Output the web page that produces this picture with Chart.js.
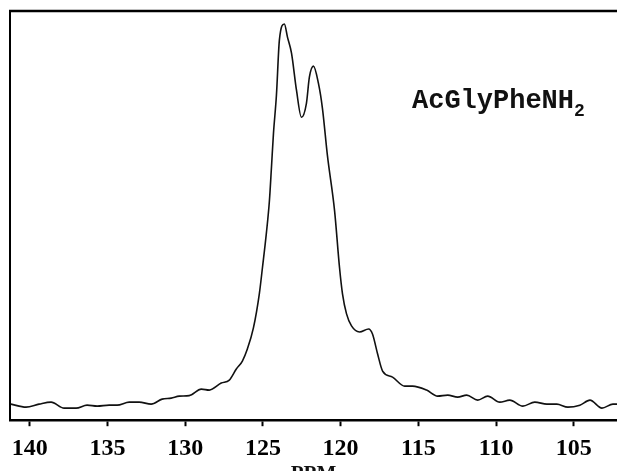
<!DOCTYPE html>
<html>
<head>
<meta charset="utf-8">
<script src="https://cdn.jsdelivr.net/npm/chart.js@4.4.0/dist/chart.umd.min.js"></script>
<style>
  html, body { margin: 0; padding: 0; background: #fff; }
  #wrap { width: 617px; height: 471px; }
</style>
</head>
<body>
<div id="wrap"><canvas id="chart"></canvas></div>
<script>
// chemical shift (ppm) and intensity
let ppmValues = [
  141.21, 140.24, 139.40, 138.63, 137.79, 137.02, 136.31, 135.66, 134.89, 134.38,
  133.60, 132.96, 132.19, 131.48, 130.90, 130.38, 129.74, 128.96, 128.45, 127.68,
  127.16, 126.71, 126.32, 126.00, 125.61, 125.23, 125.03, 124.78, 124.58, 124.45,
  124.32, 124.13, 123.94, 123.62, 123.42, 123.16, 122.84, 122.52, 122.20, 122.01,
  121.75, 121.43, 121.17, 120.85, 120.39, 120.07, 119.88, 119.62, 119.30, 118.78,
  118.20, 117.95, 117.62, 117.30, 116.66, 115.88, 115.37, 114.47, 113.76, 113.11,
  112.47, 111.89, 111.18, 110.54, 109.76, 109.12, 108.28, 107.51, 106.73, 106.09,
  105.38, 104.61, 103.96, 103.19, 102.48, 102.22,
];

let intensityValues = [
  16, 13, 16, 18, 12, 12, 15, 14, 15, 15,
  18, 18, 16, 21, 22, 24, 24.5, 31, 30, 37,
  40, 51, 59, 71, 92, 126, 152, 186, 219, 252,
  286, 324, 379, 395, 382, 366, 329, 302, 316, 342,
  353, 336, 311, 264, 209, 152, 126, 106, 94, 88,
  91, 86, 66, 49, 43, 34, 34, 30, 24, 25,
  23, 25, 20, 24, 18, 20, 14, 18, 16, 16,
  13, 15, 20, 12, 16, 16,
];

let tickValues = [140, 135, 130, 125, 120, 115, 110, 105];

const sampleName = "AcGlyPheNH";
const sampleSub = "2";
const axisTitle = "PPM";

let points = ppmValues.map((p, i) => ({ x: p, y: intensityValues[i] }));

// top frame line, sample label and axis title
const framePlugin = {
  id: "frame",
  afterDraw(chart) {
    const { ctx, chartArea } = chart;
    ctx.save();
    ctx.strokeStyle = "#000";
    ctx.lineWidth = 2.5;
    ctx.beginPath();
    ctx.moveTo(chartArea.left - 1, chartArea.top);
    ctx.lineTo(chart.width, chartArea.top);
    ctx.stroke();

    ctx.fillStyle = "#111";
    ctx.textBaseline = "alphabetic";
    ctx.font = "bold 27px 'Liberation Mono'";
    ctx.fillText(sampleName, 412, 108);
    const w = ctx.measureText(sampleName).width;
    ctx.font = "bold 18px 'Liberation Mono'";
    ctx.fillText(sampleSub, 412 + w, 116);

    ctx.font = "bold 21px 'Liberation Serif'";
    ctx.textAlign = "center";
    ctx.fillText(axisTitle, (chartArea.left + chartArea.right) / 2, 480);
    ctx.restore();
  },
};

new Chart(document.getElementById("chart"), {
  type: "line",
  data: {
    datasets: [
      {
        data: points,
        borderColor: "#111",
        borderWidth: 1.6,
        pointRadius: 0,
        fill: false,
        cubicInterpolationMode: "monotone",
      },
    ],
  },
  options: {
    responsive: true,
    maintainAspectRatio: false,
    animation: false,
    layout: {
      padding: { left: 10, top: 11, right: 0, bottom: 0 },
    },
    plugins: {
      legend: { display: false },
      tooltip: { enabled: false },
    },
    scales: {
      x: {
        type: "linear",
        reverse: true,
        min: 102.22,
        max: 141.27,
        afterBuildTicks: (scale) => {
          scale.ticks = tickValues.map((v) => ({ value: v }));
        },
        grid: {
          drawOnChartArea: false,
          drawTicks: true,
          tickLength: 6,
          tickColor: "#000",
          tickWidth: 2,
        },
        border: { display: true, color: "#000", width: 2.5 },
        ticks: {
          color: "#000",
          padding: 8,
          maxRotation: 0,
          font: { family: "Liberation Serif", weight: "bold", size: 24 },
        },
      },
      y: {
        min: 0,
        max: 408,
        grid: { display: false, drawTicks: false },
        border: { display: true, color: "#000", width: 2 },
        ticks: { display: false },
      },
    },
  },
  plugins: [framePlugin],
});
</script>
</body>
</html>
